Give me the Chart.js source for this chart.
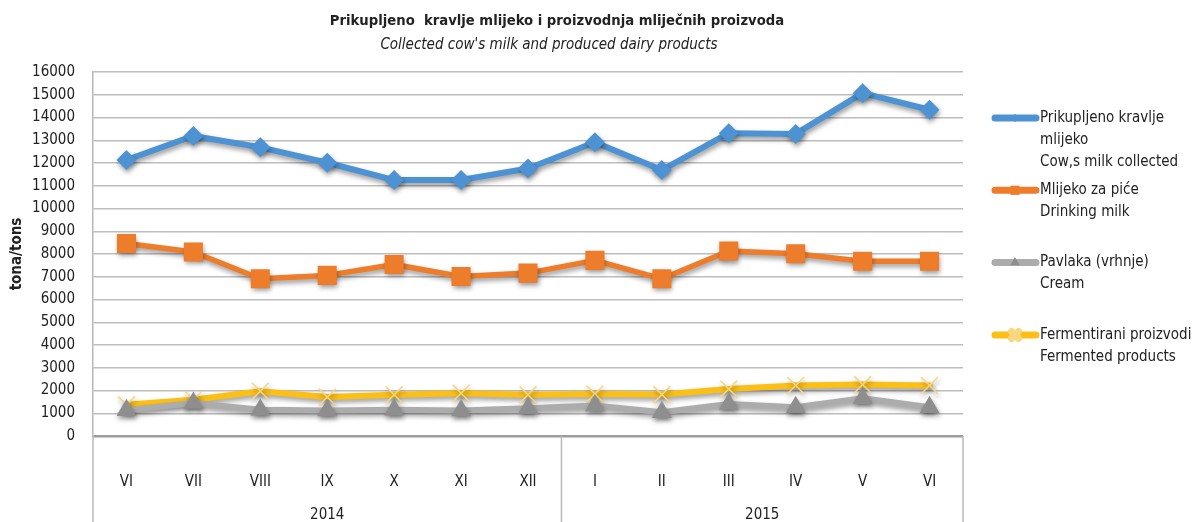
<!DOCTYPE html>
<html>
<head>
<meta charset="utf-8">
<script src="https://cdn.jsdelivr.net/npm/chart.js"></script>
<style>
  body { margin: 0; background: #fff; }
  #wrap { width: 1197px; height: 522px; }
</style>
</head>
<body>
<div id="wrap"><canvas id="milkChart" width="1197" height="522"></canvas></div>
<script>
// Data (tons)
const months = ['VI', 'VII', 'VIII', 'IX', 'X', 'XI', 'XII', 'I', 'II', 'III', 'IV', 'V', 'VI'];
const yearLabels = ['2014', '2015'];
const yearSpans = [7, 6];

const collected = [12130, 13190, 12690, 12010, 11250, 11250, 11760, 12910, 11690, 13310, 13280, 15070, 14340];
const drinking = [8460, 8090, 6910, 7060, 7540, 7010, 7160, 7720, 6910, 8130, 8010, 7680, 7680];
const cream = [1130, 1450, 1150, 1120, 1150, 1120, 1220, 1340, 1040, 1410, 1260, 1660, 1260];
const fermented = [1370, 1590, 1970, 1710, 1810, 1880, 1810, 1850, 1820, 2070, 2220, 2260, 2220];

const yMin = 0;
const yMax = 16000;
const yStep = 1000;

const titleText = 'Prikupljeno  kravlje mlijeko i proizvodnja mliječnih proizvoda';
const subtitleText = "Collected cow's milk and produced dairy products";
const yTitle = 'tona/tons';

const legendLines = [
  ['Prikupljeno kravlje', 'mlijeko', 'Cow,s milk collected'],
  ['Mlijeko za piće', 'Drinking milk'],
  ['Pavlaka (vrhnje)', 'Cream'],
  ['Fermentirani proizvodi', 'Fermented products']
];

const FONT = "'DejaVu Sans Condensed', 'Liberation Sans Narrow', 'Arial Narrow', sans-serif";
const TEXT = '#222222';

// shadow under lines and markers, like the Excel original
const shadowPlugin = {
  id: 'shadow',
  beforeDatasetsDraw(chart) {
    const ctx = chart.ctx;
    ctx.save();
    ctx.shadowColor = 'rgba(0,0,0,0.4)';
    ctx.shadowBlur = 5;
    ctx.shadowOffsetX = 1;
    ctx.shadowOffsetY = 3;
  },
  afterDatasetsDraw(chart) {
    chart.ctx.restore();
  }
};

// title, legend, year row and separators
const extrasPlugin = {
  id: 'extras',
  afterDraw(chart) {
    const ctx = chart.ctx;
    const area = chart.chartArea;
    const x = chart.scales.x;

    ctx.save();
    ctx.fillStyle = TEXT;
    ctx.textAlign = 'center';
    ctx.textBaseline = 'middle';
    ctx.font = `bold 14.7px ${FONT}`;
    ctx.fillText(titleText, 557, 21);
    ctx.font = `italic 15px ${FONT}`;
    ctx.fillText(subtitleText, 549, 45);

    // year groups under the month labels
    ctx.strokeStyle = '#b8b8b8';
    ctx.lineWidth = 1.5;
    const half = (x.getPixelForValue(1) - x.getPixelForValue(0)) / 2;
    let start = 0;
    const bounds = [x.getPixelForValue(0) - half];
    ctx.font = `15px ${FONT}`;
    yearLabels.forEach((yr, i) => {
      const end = start + yearSpans[i] - 1;
      const left = x.getPixelForValue(start) - half;
      const right = x.getPixelForValue(end) + half;
      bounds.push(right);
      ctx.fillText(yr, (left + right) / 2, 515);
      start = end + 1;
    });
    bounds.forEach(b => {
      ctx.beginPath();
      ctx.moveTo(b, area.bottom);
      ctx.lineTo(b, chart.height);
      ctx.stroke();
    });

    // legend
    ctx.textAlign = 'left';
    chart.data.datasets.forEach((ds, i) => {
      const y0 = 118 + i * 72.3;
      ctx.strokeStyle = ds.borderColor;
      ctx.lineWidth = 7;
      ctx.lineCap = 'round';
      ctx.beginPath();
      ctx.moveTo(995, y0);
      ctx.lineTo(1036, y0);
      ctx.stroke();
      ctx.fillStyle = ds.pointBackgroundColor;
      ctx.strokeStyle = ds.pointBorderColor;
      Chart.helpers.drawPoint(ctx, {
        pointStyle: ds.pointStyle,
        radius: ds.legendRadius,
        rotation: 0,
        borderWidth: ds.pointBorderWidth
      }, 1015, y0);
      ctx.fillStyle = TEXT;
      legendLines[i].forEach((line, j) => {
        ctx.fillText(line, 1040, y0 + j * 22);
      });
    });
    ctx.restore();
  }
};

new Chart(document.getElementById('milkChart'), {
  type: 'line',
  data: {
    labels: months,
    datasets: [
      {
        label: legendLines[0].join(' '),
        data: collected,
        borderColor: '#4d93d3',
        borderWidth: 6,
        pointStyle: 'rectRot',
        pointRadius: 10,
        pointBorderWidth: 0,
        pointBackgroundColor: '#4d93d3',
        pointBorderColor: '#4d93d3',
        legendRadius: 4
      },
      {
        label: legendLines[1].join(' '),
        data: drinking,
        borderColor: '#ee7d2b',
        borderWidth: 5.5,
        pointStyle: 'rect',
        pointRadius: 13.5,
        pointBorderWidth: 0,
        pointBackgroundColor: '#ee7d2b',
        pointBorderColor: '#ee7d2b',
        legendRadius: 6.5
      },
      {
        label: legendLines[2].join(' '),
        data: cream,
        borderColor: '#acacac',
        borderWidth: 6,
        pointStyle: 'triangle',
        pointRadius: 11.5,
        pointBorderWidth: 0,
        pointBackgroundColor: '#8e8e8e',
        pointBorderColor: '#8e8e8e',
        legendRadius: 5.5
      },
      {
        label: legendLines[3].join(' '),
        data: fermented,
        borderColor: '#fbbf15',
        borderWidth: 6,
        pointStyle: 'crossRot',
        pointRadius: 12,
        pointBorderWidth: 1.5,
        pointBackgroundColor: '#f7d780',
        pointBorderColor: '#f7d780',
        legendRadius: 5
      }
    ]
  },
  options: {
    responsive: false,
    animation: false,
    layout: { padding: { top: 72, right: 234, left: 0, bottom: 0 } },
    plugins: {
      legend: { display: false },
      title: { display: false },
      tooltip: { enabled: false }
    },
    elements: { line: { tension: 0, borderCapStyle: 'round', borderJoinStyle: 'round' } },
    scales: {
      x: {
        offset: true,
        grid: { display: false, offset: true },
        border: { display: false },
        ticks: {
          color: TEXT,
          font: { family: FONT, size: 15 },
          padding: 29,
          maxRotation: 0,
          autoSkip: false
        },
        afterFit(scale) { scale.height = 86; }
      },
      y: {
        min: yMin,
        max: yMax,
        grid: {
          drawTicks: false,
          color: ctx => ctx.tick && ctx.tick.value === 0 ? '#9c9c9c' : '#bdbdbd',
          lineWidth: ctx => ctx.tick && ctx.tick.value === 0 ? 2.5 : 1.5
        },
        border: { display: true, color: '#b8b8b8', width: 1.5 },
        ticks: {
          stepSize: yStep,
          color: TEXT,
          font: { family: FONT, size: 15 },
          padding: 18,
          callback: v => String(v)
        },
        title: {
          display: true,
          text: yTitle,
          color: TEXT,
          font: { family: FONT, size: 15, weight: 'bold' },
          padding: { top: 8, bottom: 0 }
        },
        afterFit(scale) { scale.width = 93; }
      }
    }
  },
  plugins: [shadowPlugin, extrasPlugin]
});
</script>
</body>
</html>
